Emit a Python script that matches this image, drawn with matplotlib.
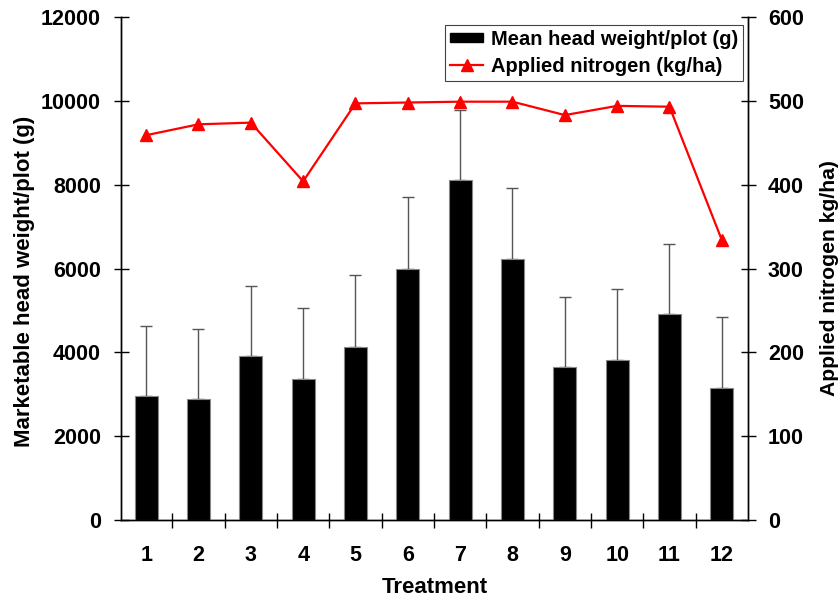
import matplotlib
matplotlib.use("Agg")
import matplotlib.pyplot as plt
from matplotlib.patches import Rectangle
from matplotlib.legend_handler import HandlerPatch
import numpy as np

plt.rcParams['font.family'] = ['Liberation Sans', 'DejaVu Sans']
plt.rcParams['font.weight'] = 'bold'

treatments = [1, 2, 3, 4, 5, 6, 7, 8, 9, 10, 11, 12]
head_weight = [2960, 2890, 3910, 3365, 4135, 5995, 8110, 6225, 3660, 3815, 4905, 3155]
head_weight_err = [1670, 1670, 1670, 1690, 1700, 1700, 1670, 1695, 1670, 1695, 1690, 1680]
nitrogen = [459, 472, 474, 404, 497, 498, 499, 499, 483, 494, 493, 334]

left_ticks = list(range(0, 12001, 2000))
right_ticks = list(range(0, 601, 100))

TICK_FS = 15.5
LABEL_FS = 16
LEGEND_FS = 14.5

fig = plt.figure(figsize=(8.38, 6.03), dpi=100)
ax = fig.add_axes([0.1444, 0.1376, 0.7482, 0.8342])
ax2 = ax.twinx()

x = np.array(treatments)
ax.bar(x, head_weight, width=0.44, color='black', edgecolor='#888888',
       linewidth=0.8, zorder=2)
ax.errorbar(x, head_weight, yerr=[np.zeros(len(x)), head_weight_err], fmt='none',
            ecolor='#555555', elinewidth=1.0, capsize=4, capthick=1.0, zorder=1)

line, = ax2.plot(x, nitrogen, color='red', linewidth=1.6, marker='^',
                 markersize=9)

ax.set_xlim(0.52, 12.5)
ax.set_ylim(0, 12000)
ax2.set_ylim(0, 600)

ax.set_yticks(left_ticks)
ax2.set_yticks(right_ticks)
ax.set_xticks(x)
ax.set_xticks(x[:-1] + 0.5, minor=True)

tick_font = dict(fontsize=TICK_FS, fontweight='bold')
ax.set_xticklabels([str(t) for t in treatments], **tick_font)
ax.set_yticklabels([str(v) for v in left_ticks], **tick_font)
ax2.set_yticklabels([str(v) for v in right_ticks], **tick_font)

ax.tick_params(axis='x', which='major', length=0, pad=18)
ax.tick_params(axis='x', which='minor', direction='inout', length=10.8, width=1)
ax.tick_params(axis='y', direction='inout', length=10.8, width=1, pad=9)
ax2.tick_params(axis='y', direction='inout', length=10.8, width=1, pad=9)

for a in (ax, ax2):
    a.spines['top'].set_visible(False)
    for s in ('left', 'right', 'bottom'):
        a.spines[s].set_linewidth(1.0)

ax.set_xlabel('Treatment', fontsize=LABEL_FS, fontweight='bold', labelpad=8)
ax.set_ylabel('Marketable head weight/plot (g)', fontsize=LABEL_FS, fontweight='bold')
ax2.set_ylabel('Applied nitrogen kg/ha)', fontsize=15.2, fontweight='bold')
ax.yaxis.set_label_coords(-0.137, 0.475)
ax2.yaxis.set_label_coords(1.115, 0.481)


def thin_bar(legend, orig_handle, xdescent, ydescent, width, height, fontsize):
    h = height * 0.62
    return Rectangle((-xdescent, -ydescent + (height - h) / 2), width, h)


bar_proxy = Rectangle((0, 0), 1, 1, facecolor='black', edgecolor='black')
leg = ax.legend([bar_proxy, line], ['Mean head weight/plot (g)', 'Applied nitrogen (kg/ha)'],
                loc='upper right', bbox_to_anchor=(0.992, 0.985), frameon=True,
                fancybox=False, edgecolor='#444444', framealpha=1,
                prop={'size': LEGEND_FS, 'weight': 'bold'}, handlelength=1.6,
                handletextpad=0.4, borderpad=0.25, labelspacing=0.4,
                borderaxespad=0.0,
                handler_map={Rectangle: HandlerPatch(patch_func=thin_bar)})
leg.get_frame().set_linewidth(0.8)
ax.set_zorder(ax2.get_zorder() + 1)
ax.patch.set_visible(False)

fig.savefig('out.png', dpi=100)
